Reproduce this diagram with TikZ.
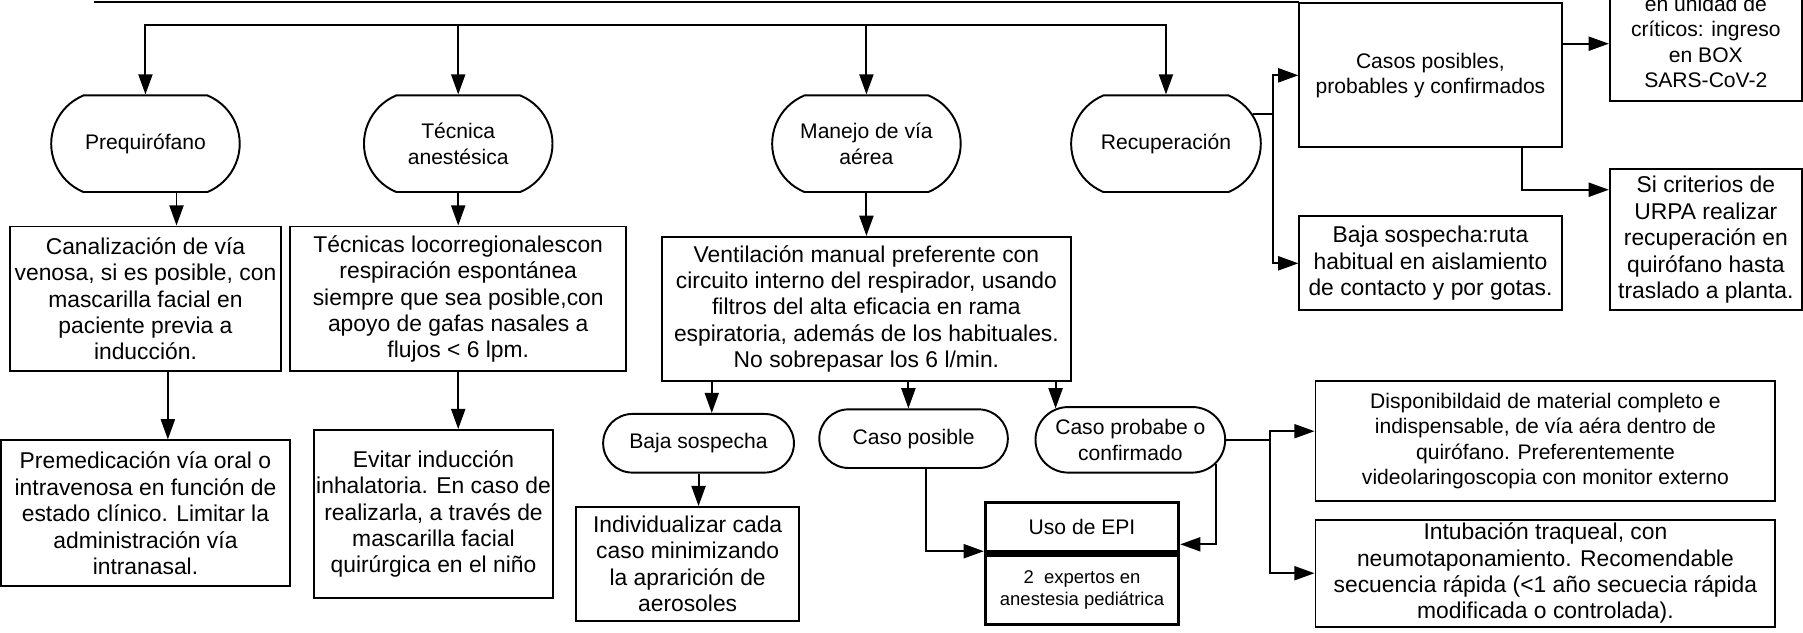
\documentclass[tikz,border=0pt]{standalone}
\usepackage{fontspec}
\setmainfont{Liberation Sans}
\usetikzlibrary{calc}
\usetikzlibrary{arrows.meta}
\usetikzlibrary{shapes.misc}

\newcommand{\bigtxt}{\fontsize{13}{15}\selectfont}
\newcommand{\midtxt}{\fontsize{12}{14.5}\selectfont}
\newcommand{\smltxt}{\fontsize{10.5}{12.5}\selectfont}

\tikzset{
  box/.style={draw, line width=1.1pt, align=center, inner sep=1pt, font=\bigtxt},
  term/.style={draw, line width=1.1pt, rounded rectangle, align=center, inner sep=1pt, font=\midtxt},
  sz/.style 2 args={minimum width=#1*0.023cm, minimum height=#2*0.023cm},
  arr/.style={line width=1.1pt, -{Triangle[length=11.5pt,width=8pt]}},
  lnk/.style={line width=1.1pt},
}

\begin{document}
\begin{tikzpicture}[x=0.023cm, y=-0.023cm]
        \useasboundingbox (0,0) rectangle (1568,550);
        \clip (0,0) rectangle (1568,550);
        % phases
        \node[term, sz={167}{84}, rounded rectangle arc length=135] (pre) at (126.5,125) {Prequirófano};
        \node[term, sz={167}{84}, rounded rectangle arc length=135] (tec) at (398.5,125) {Técnica\\anestésica};
        \node[term, sz={167}{84}, rounded rectangle arc length=135] (man) at (753.5,125) {Manejo de vía\\aérea};
        \node[term, sz={168}{84}, rounded rectangle arc length=135] (rec) at (1014,125) {Recuperación};
        % second row
        \node[box, sz={236}{126}] (can) at (126.5,260) {Canalización de vía\\venosa, si es posible, con\\mascarilla facial en\\paciente previa a\\inducción.};
        \node[box, sz={292}{126}] (tlr) at (398.5,260) {Técnicas locorregionalescon\\respiración espontánea\\siempre que sea posible,con\\apoyo de gafas nasales a\\flujos < 6 lpm.};
        \node[box, sz={355}{125}] (ven) at (753.5,268.5) {Ventilación manual preferente con\\circuito interno del respirador, usando\\filtros del alta eficacia en rama\\espiratoria, además de los habituales.\\No sobrepasar los 6 l/min.};
        \node[box, sz={251}{127}] (pmd) at (126.5,446.5) {Premedicación vía oral o\\intravenosa en función de\\estado clínico. Limitar la\\administración vía\\intranasal.};
        \node[box, sz={208}{146}] (evi) at (377,447) {Evitar inducción\\inhalatoria. En caso de\\realizarla, a través de\\mascarilla facial\\quirúrgica en el niño};
        % airway cases
        \node[term, sz={169}{51}] (bs) at (607.5,385.5) {Baja sospecha};
        \node[term, sz={167}{51}] (cp) at (794.5,381.5) {Caso posible};
        \node[term, sz={168}{57}] (cpc) at (983,382.5) {Caso probabe o\\confirmado};
        \node[box, sz={194}{99}] (ind) at (598,490.5) {Individualizar cada\\caso minimizando\\la aprarición de\\aerosoles};
        \node[box, sz={168}{43}, line width=1.8pt, font=\midtxt] (epi) at (941,458.5) {Uso de EPI};
        \node[box, sz={168}{60}, line width=1.8pt, font=\smltxt, anchor=north] (epx) at (epi.south) {2~~expertos en\\anestesia pediátrica};
        \node[box, sz={400}{105}, font=\midtxt] (dis) at (1344,383.5) {Disponibildaid de material completo e\\indispensable, de vía aéra dentro de\\quirófano. Preferentemente\\videolaringoscopia con monitor externo};
        \node[box, sz={400}{93}] (int) at (1344,498.5) {Intubación traqueal, con\\neumotaponamiento. Recomendable\\secuencia rápida (<1 año secuecia rápida\\modificada o controlada).};
        % recovery
        \node[box, sz={228}{125}, font=\midtxt] (cas) at (1244,65.5) {Casos posibles,\\probables y confirmados};
        \node[box, sz={228}{82}] (bsr) at (1244,229) {Baja sospecha:ruta\\habitual en aislamiento\\de contacto y por gotas.};
        \node[box, sz={167}{103}, font=\midtxt] (uci) at (1483.5,36.5) {en unidad de\\críticos: ingreso\\en BOX\\SARS-CoV-2};
        \node[box, sz={167}{123}] (sic) at (1483.5,208.5) {Si criterios de\\URPA realizar\\recuperación en\\quirófano hasta\\traslado a planta.};
        % connectors
        \coordinate (topL) at (82,1.5);
        \draw[lnk] (topL) -- (topL -| cas.north west) -- (cas.north west);
        \coordinate (br) at (0,22);
        \draw[arr] (tec.north |- br) -| (pre.north);
        \draw[arr] (tec.north |- br) -- (tec.north);
        \draw[arr] (tec.north |- br) -| (rec.north);
        \draw[arr] (man.north |- br) -- (man.north);
        \draw[arr] ($(pre.south)+(27,0)$) -- ($(can.north)+(27,0)$);
        \draw[arr] (tec.south) -- (tlr.north);
        \draw[arr] (man.south) -- (ven.north);
        \draw[arr] ($(can.south)+(19.5,0)$) -- ($(pmd.north)+(19.5,0)$);
        \draw[arr] (tlr.south) -- (tlr.south |- evi.north);
        \draw[arr] ($(ven.south)+(-134.5,0)$) -- ($(bs.north)+(11.5,0)$);
        \draw[arr] ($(ven.south)+(36.5,0)$) -- ($(cp.north)+(-4.5,0)$);
        \draw[arr] ($(ven.south)+(164.5,0)$) -- ($(cpc.north)+(-65,2)$);
        \draw[arr] (bs.south) -- (bs.south |- ind.north);
        \draw[arr] ($(cp.south)+(10.5,0)$) |- ($(epi.south west)+(0,-2)$);
        \draw[arr] (cpc.-16) |- ($(epi.south east)+(0,-8)$);
        \coordinate (sp2) at ($(cpc.east)+(38,0)$);
        \draw[lnk] (cpc.east) -- (sp2);
        \draw[arr] (sp2) |- ($(dis.west)+(0,-8.5)$);
        \draw[arr] (sp2) |- (int.west);
        \coordinate (sp1) at ($(rec.19)+(18,0)$);
        \draw[lnk] (rec.19) -- (sp1);
        \draw[arr] (sp1) |- (cas.west);
        \draw[arr] (sp1) |- (bsr.west);
        \draw[arr] ($(cas.east)+(0,-27.5)$) -- ($(uci.west)+(0,1.5)$);
        \draw[arr] ($(cas.south)+(79.5,0)$) |- ($(sic.west)+(0,-43.5)$);
\end{tikzpicture}
\end{document}
